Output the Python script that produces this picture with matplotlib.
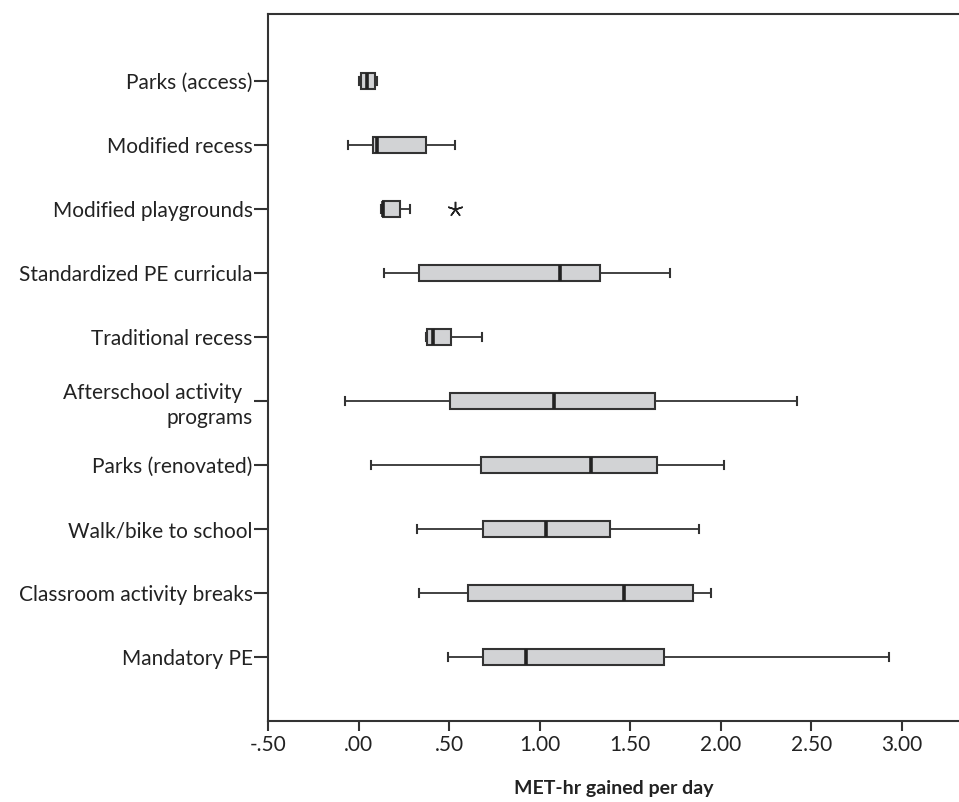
import matplotlib
matplotlib.use("Agg")
import matplotlib.pyplot as plt

categories = ["Parks (access)", "Modified recess", "Modified playgrounds",
              "Standardized PE curricula", "Traditional recess",
              "Afterschool activity  \nprograms", "Parks (renovated)",
              "Walk/bike to school", "Classroom activity breaks", "Mandatory PE"]
whisker_low = [0.002, -0.057, 0.122, 0.142, 0.372, -0.075, 0.070, 0.321, 0.331, 0.493]
q1 = [0.012, 0.081, 0.133, 0.332, 0.379, 0.506, 0.676, 0.688, 0.602, 0.688]
median = [0.048, 0.103, 0.135, 1.111, 0.411, 1.079, 1.282, 1.034, 1.464, 0.925]
q3 = [0.091, 0.374, 0.230, 1.331, 0.512, 1.637, 1.649, 1.390, 1.846, 1.686]
whisker_high = [0.100, 0.532, 0.284, 1.718, 0.680, 2.420, 2.019, 1.878, 1.945, 2.926]
outliers = [[], [], [0.532], [], [], [], [], [], [], []]
xticks = [-0.5, 0.0, 0.5, 1.0, 1.5, 2.0, 2.5, 3.0]
xticklabels = ["-.50", ".00", ".50", "1.00", "1.50", "2.00", "2.50", "3.00"]

plt.rcParams['font.family'] = ['Lato', 'DejaVu Sans']

fig = plt.figure(figsize=(9.59, 8.02), dpi=100)
ax = fig.add_axes([268/959, 1 - 721/802, 1 - 268/959, (721 - 14)/802])

stats = []
for i in range(len(categories)):
    stats.append(dict(label=categories[i], whislo=whisker_low[i], q1=q1[i],
                      med=median[i], q3=q3[i], whishi=whisker_high[i],
                      fliers=outliers[i]))

positions = list(range(1, len(categories) + 1))
edge = "#333333"
ax.bxp(stats, positions=positions, orientation='horizontal', widths=0.25,
       patch_artist=True, capwidths=0.12,
       boxprops=dict(facecolor="#d2d3d5", edgecolor=edge, linewidth=1.5),
       medianprops=dict(color="#222222", linewidth=2.6),
       whiskerprops=dict(color=edge, linewidth=1.3),
       capprops=dict(color=edge, linewidth=1.5),
       flierprops=dict(marker=(5, 2, 0), markersize=11, markeredgecolor="#222222",
                       markerfacecolor="#222222", markeredgewidth=1.1, linestyle='none'))

ax.set_ylim(11.0, -0.05)
ax.set_xlim(-0.5, 3.315)
ax.set_xticks(xticks)
ax.set_xticklabels(xticklabels)
ax.set_yticks(positions)
ax.set_yticklabels(categories, ha='right', linespacing=1.3)

for s in ['left', 'bottom', 'top']:
    ax.spines[s].set_color(edge)
    ax.spines[s].set_linewidth(1.5)
ax.spines['right'].set_visible(False)

ax.tick_params(axis='both', direction='out', length=7, width=1.5, color=edge,
               labelsize=15, labelcolor="#222222", pad=3)
ax.tick_params(axis='y', length=10, pad=1)
ax.set_xlabel("MET-hr gained per day", fontsize=14, fontweight='bold',
              color="#222222", labelpad=18)

fig.savefig("out.png", dpi=100)
